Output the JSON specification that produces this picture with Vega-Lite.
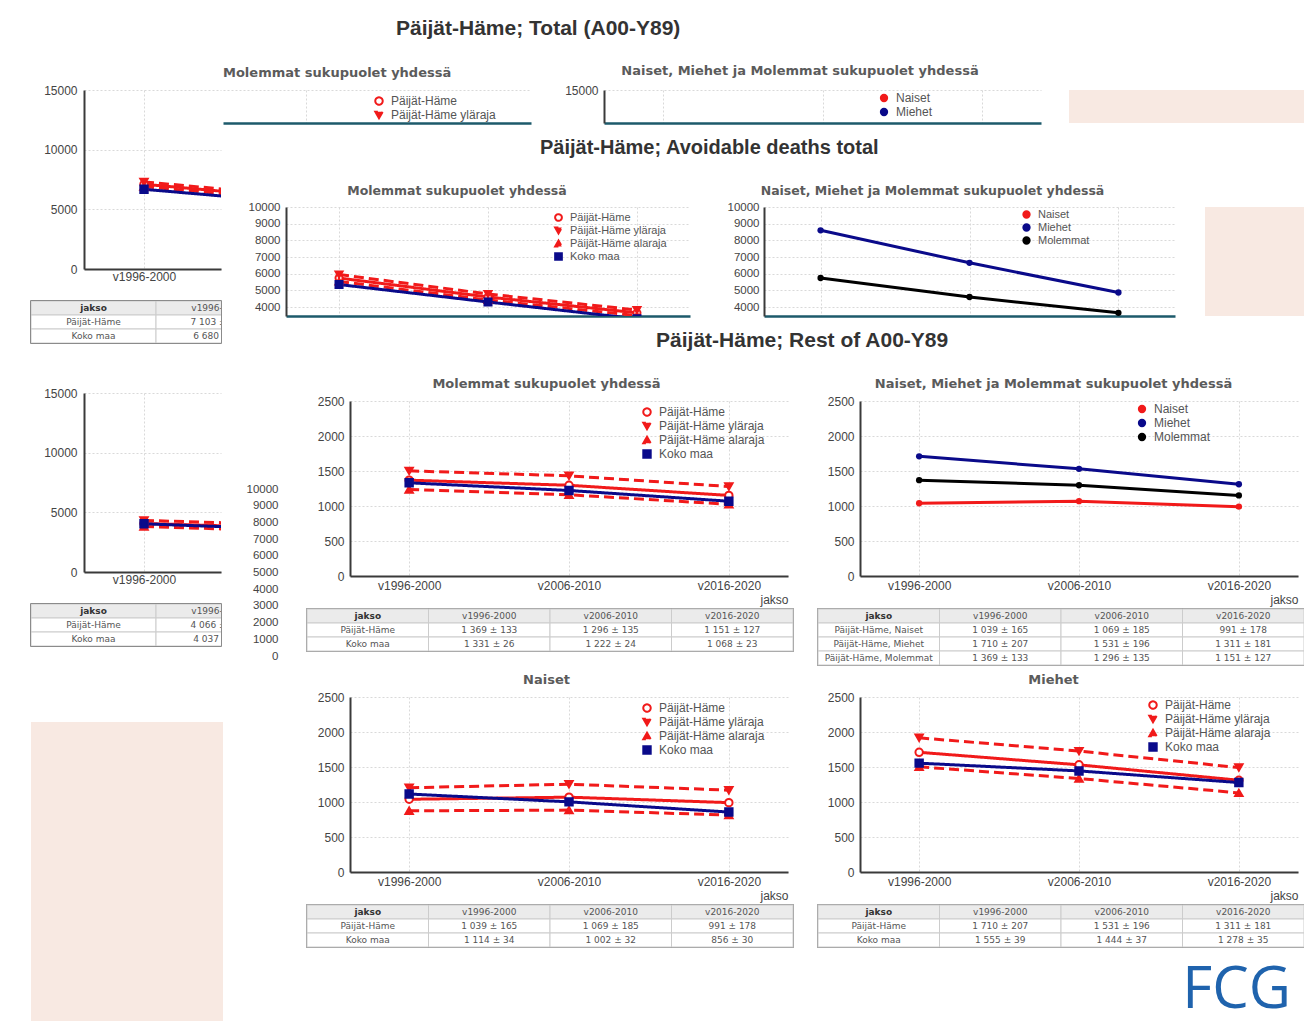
{
  "$schema": "https://vega.github.io/schema/vega-lite/v6.json",
  "background": "#ffffff",
  "padding": {"left": 30, "top": 18, "right": 0, "bottom": 0},
  "config": {
    "view": {"stroke": null},
    "font": "Liberation Sans",
    "numberFormat": "d",
    "title": {"font": "DejaVu Sans", "fontSize": 12.5, "fontWeight": "bold", "color": "#5b5b5b"},
    "axis": {"labelFont": "Liberation Sans", "labelFontSize": 12, "labelColor": "#444444", "domainColor": "#3a3a3a", "domainWidth": 2, "ticks": false, "gridColor": "#d9d9d9", "gridDash": [2, 2], "gridWidth": 1, "titleFont": "Liberation Sans", "titleFontSize": 12, "titleFontWeight": "normal", "titleColor": "#444444", "labelAngle": 0},
    "legend": {"labelFont": "Liberation Sans", "labelFontSize": 12, "labelColor": "#555555", "symbolStrokeWidth": 2, "rowPadding": -2, "labelOffset": 6, "symbolSize": 55}
  },
  "datasets": {
    "lepo": [
      {"kuva": "Molemmat", "sarja": "Päijät-Häme", "jakso": "v1996-2000", "arvo": 1369},
      {"kuva": "Molemmat", "sarja": "Päijät-Häme", "jakso": "v2006-2010", "arvo": 1296},
      {"kuva": "Molemmat", "sarja": "Päijät-Häme", "jakso": "v2016-2020", "arvo": 1151},
      {"kuva": "Molemmat", "sarja": "Päijät-Häme yläraja", "jakso": "v1996-2000", "arvo": 1502},
      {"kuva": "Molemmat", "sarja": "Päijät-Häme yläraja", "jakso": "v2006-2010", "arvo": 1431},
      {"kuva": "Molemmat", "sarja": "Päijät-Häme yläraja", "jakso": "v2016-2020", "arvo": 1278},
      {"kuva": "Molemmat", "sarja": "Päijät-Häme alaraja", "jakso": "v1996-2000", "arvo": 1236},
      {"kuva": "Molemmat", "sarja": "Päijät-Häme alaraja", "jakso": "v2006-2010", "arvo": 1161},
      {"kuva": "Molemmat", "sarja": "Päijät-Häme alaraja", "jakso": "v2016-2020", "arvo": 1024},
      {"kuva": "Molemmat", "sarja": "Koko maa", "jakso": "v1996-2000", "arvo": 1331},
      {"kuva": "Molemmat", "sarja": "Koko maa", "jakso": "v2006-2010", "arvo": 1222},
      {"kuva": "Molemmat", "sarja": "Koko maa", "jakso": "v2016-2020", "arvo": 1068},
      {"kuva": "Naiset", "sarja": "Päijät-Häme", "jakso": "v1996-2000", "arvo": 1039},
      {"kuva": "Naiset", "sarja": "Päijät-Häme", "jakso": "v2006-2010", "arvo": 1069},
      {"kuva": "Naiset", "sarja": "Päijät-Häme", "jakso": "v2016-2020", "arvo": 991},
      {"kuva": "Naiset", "sarja": "Päijät-Häme yläraja", "jakso": "v1996-2000", "arvo": 1204},
      {"kuva": "Naiset", "sarja": "Päijät-Häme yläraja", "jakso": "v2006-2010", "arvo": 1254},
      {"kuva": "Naiset", "sarja": "Päijät-Häme yläraja", "jakso": "v2016-2020", "arvo": 1169},
      {"kuva": "Naiset", "sarja": "Päijät-Häme alaraja", "jakso": "v1996-2000", "arvo": 874},
      {"kuva": "Naiset", "sarja": "Päijät-Häme alaraja", "jakso": "v2006-2010", "arvo": 884},
      {"kuva": "Naiset", "sarja": "Päijät-Häme alaraja", "jakso": "v2016-2020", "arvo": 813},
      {"kuva": "Naiset", "sarja": "Koko maa", "jakso": "v1996-2000", "arvo": 1114},
      {"kuva": "Naiset", "sarja": "Koko maa", "jakso": "v2006-2010", "arvo": 1002},
      {"kuva": "Naiset", "sarja": "Koko maa", "jakso": "v2016-2020", "arvo": 856},
      {"kuva": "Miehet", "sarja": "Päijät-Häme", "jakso": "v1996-2000", "arvo": 1710},
      {"kuva": "Miehet", "sarja": "Päijät-Häme", "jakso": "v2006-2010", "arvo": 1531},
      {"kuva": "Miehet", "sarja": "Päijät-Häme", "jakso": "v2016-2020", "arvo": 1311},
      {"kuva": "Miehet", "sarja": "Päijät-Häme yläraja", "jakso": "v1996-2000", "arvo": 1917},
      {"kuva": "Miehet", "sarja": "Päijät-Häme yläraja", "jakso": "v2006-2010", "arvo": 1727},
      {"kuva": "Miehet", "sarja": "Päijät-Häme yläraja", "jakso": "v2016-2020", "arvo": 1492},
      {"kuva": "Miehet", "sarja": "Päijät-Häme alaraja", "jakso": "v1996-2000", "arvo": 1503},
      {"kuva": "Miehet", "sarja": "Päijät-Häme alaraja", "jakso": "v2006-2010", "arvo": 1335},
      {"kuva": "Miehet", "sarja": "Päijät-Häme alaraja", "jakso": "v2016-2020", "arvo": 1130},
      {"kuva": "Miehet", "sarja": "Koko maa", "jakso": "v1996-2000", "arvo": 1555},
      {"kuva": "Miehet", "sarja": "Koko maa", "jakso": "v2006-2010", "arvo": 1444},
      {"kuva": "Miehet", "sarja": "Koko maa", "jakso": "v2016-2020", "arvo": 1278}
    ],
    "lepo_sp": [
      {"sarja": "Naiset", "jakso": "v1996-2000", "arvo": 1039},
      {"sarja": "Naiset", "jakso": "v2006-2010", "arvo": 1069},
      {"sarja": "Naiset", "jakso": "v2016-2020", "arvo": 991},
      {"sarja": "Miehet", "jakso": "v1996-2000", "arvo": 1710},
      {"sarja": "Miehet", "jakso": "v2006-2010", "arvo": 1531},
      {"sarja": "Miehet", "jakso": "v2016-2020", "arvo": 1311},
      {"sarja": "Molemmat", "jakso": "v1996-2000", "arvo": 1369},
      {"sarja": "Molemmat", "jakso": "v2006-2010", "arvo": 1296},
      {"sarja": "Molemmat", "jakso": "v2016-2020", "arvo": 1151}
    ],
    "kaikki": [
      {"kuva": "Molemmat", "sarja": "Päijät-Häme", "jakso": "v1996-2000", "alku": 1996, "arvo": 7103},
      {"kuva": "Molemmat", "sarja": "Päijät-Häme", "jakso": "v2006-2010", "alku": 2006, "arvo": 5896},
      {"kuva": "Molemmat", "sarja": "Päijät-Häme", "jakso": "v2016-2020", "alku": 2016, "arvo": 4801},
      {"kuva": "Molemmat", "sarja": "Päijät-Häme yläraja", "jakso": "v1996-2000", "alku": 1996, "arvo": 7300},
      {"kuva": "Molemmat", "sarja": "Päijät-Häme yläraja", "jakso": "v2006-2010", "alku": 2006, "arvo": 6080},
      {"kuva": "Molemmat", "sarja": "Päijät-Häme yläraja", "jakso": "v2016-2020", "alku": 2016, "arvo": 4980},
      {"kuva": "Molemmat", "sarja": "Päijät-Häme alaraja", "jakso": "v1996-2000", "alku": 1996, "arvo": 6906},
      {"kuva": "Molemmat", "sarja": "Päijät-Häme alaraja", "jakso": "v2006-2010", "alku": 2006, "arvo": 5712},
      {"kuva": "Molemmat", "sarja": "Päijät-Häme alaraja", "jakso": "v2016-2020", "alku": 2016, "arvo": 4622},
      {"kuva": "Molemmat", "sarja": "Koko maa", "jakso": "v1996-2000", "alku": 1996, "arvo": 6680},
      {"kuva": "Molemmat", "sarja": "Koko maa", "jakso": "v2006-2010", "alku": 2006, "arvo": 5522},
      {"kuva": "Molemmat", "sarja": "Koko maa", "jakso": "v2016-2020", "alku": 2016, "arvo": 4358},
      {"kuva": "Naiset", "sarja": "Päijät-Häme", "jakso": "v1996-2000", "alku": 1996, "arvo": 4066},
      {"kuva": "Naiset", "sarja": "Päijät-Häme", "jakso": "v2006-2010", "alku": 2006, "arvo": 3669},
      {"kuva": "Naiset", "sarja": "Päijät-Häme", "jakso": "v2016-2020", "alku": 2016, "arvo": 3291},
      {"kuva": "Naiset", "sarja": "Päijät-Häme yläraja", "jakso": "v1996-2000", "alku": 1996, "arvo": 4320},
      {"kuva": "Naiset", "sarja": "Päijät-Häme yläraja", "jakso": "v2006-2010", "alku": 2006, "arvo": 3940},
      {"kuva": "Naiset", "sarja": "Päijät-Häme yläraja", "jakso": "v2016-2020", "alku": 2016, "arvo": 3550},
      {"kuva": "Naiset", "sarja": "Päijät-Häme alaraja", "jakso": "v1996-2000", "alku": 1996, "arvo": 3812},
      {"kuva": "Naiset", "sarja": "Päijät-Häme alaraja", "jakso": "v2006-2010", "alku": 2006, "arvo": 3398},
      {"kuva": "Naiset", "sarja": "Päijät-Häme alaraja", "jakso": "v2016-2020", "alku": 2016, "arvo": 3032},
      {"kuva": "Naiset", "sarja": "Koko maa", "jakso": "v1996-2000", "alku": 1996, "arvo": 4037},
      {"kuva": "Naiset", "sarja": "Koko maa", "jakso": "v2006-2010", "alku": 2006, "arvo": 3550},
      {"kuva": "Naiset", "sarja": "Koko maa", "jakso": "v2016-2020", "alku": 2016, "arvo": 3100}
    ],
    "kaikki_sp": [
      {"sarja": "Naiset", "jakso": "v1996-2000", "arvo": 4066},
      {"sarja": "Naiset", "jakso": "v2006-2010", "arvo": 3669},
      {"sarja": "Naiset", "jakso": "v2016-2020", "arvo": 3291},
      {"sarja": "Miehet", "jakso": "v1996-2000", "arvo": 10310},
      {"sarja": "Miehet", "jakso": "v2006-2010", "arvo": 8181},
      {"sarja": "Miehet", "jakso": "v2016-2020", "arvo": 6181},
      {"sarja": "Molemmat", "jakso": "v1996-2000", "arvo": 7103},
      {"sarja": "Molemmat", "jakso": "v2006-2010", "arvo": 5896},
      {"sarja": "Molemmat", "jakso": "v2016-2020", "arvo": 4801}
    ],
    "vaelt": [
      {"sarja": "Päijät-Häme", "jakso": "v1996-2000", "arvo": 5740},
      {"sarja": "Päijät-Häme", "jakso": "v2006-2010", "arvo": 4600},
      {"sarja": "Päijät-Häme", "jakso": "v2016-2020", "arvo": 3650},
      {"sarja": "Päijät-Häme yläraja", "jakso": "v1996-2000", "arvo": 5950},
      {"sarja": "Päijät-Häme yläraja", "jakso": "v2006-2010", "arvo": 4780},
      {"sarja": "Päijät-Häme yläraja", "jakso": "v2016-2020", "arvo": 3820},
      {"sarja": "Päijät-Häme alaraja", "jakso": "v1996-2000", "arvo": 5530},
      {"sarja": "Päijät-Häme alaraja", "jakso": "v2006-2010", "arvo": 4420},
      {"sarja": "Päijät-Häme alaraja", "jakso": "v2016-2020", "arvo": 3480},
      {"sarja": "Koko maa", "jakso": "v1996-2000", "arvo": 5349},
      {"sarja": "Koko maa", "jakso": "v2006-2010", "arvo": 4300},
      {"sarja": "Koko maa", "jakso": "v2016-2020", "arvo": 3290}
    ],
    "vaelt_sp": [
      {"sarja": "Naiset", "jakso": "v1996-2000", "arvo": 3027},
      {"sarja": "Naiset", "jakso": "v2006-2010", "arvo": 2600},
      {"sarja": "Naiset", "jakso": "v2016-2020", "arvo": 2300},
      {"sarja": "Miehet", "jakso": "v1996-2000", "arvo": 8600},
      {"sarja": "Miehet", "jakso": "v2006-2010", "arvo": 6650},
      {"sarja": "Miehet", "jakso": "v2016-2020", "arvo": 4870},
      {"sarja": "Molemmat", "jakso": "v1996-2000", "arvo": 5740},
      {"sarja": "Molemmat", "jakso": "v2006-2010", "arvo": 4600},
      {"sarja": "Molemmat", "jakso": "v2016-2020", "arvo": 3650}
    ],
    "taulukot": [
      {"taulukko": "T1", "rivi": "jakso", "sarake": "jakso", "teksti": "jakso"},
      {"taulukko": "T1", "rivi": "jakso", "sarake": "v1996-2000", "teksti": "v1996-2000"},
      {"taulukko": "T1", "rivi": "jakso", "sarake": "v2006-2010", "teksti": "v2006-2010"},
      {"taulukko": "T1", "rivi": "jakso", "sarake": "v2016-2020", "teksti": "v2016-2020"},
      {"taulukko": "T1", "rivi": "Päijät-Häme", "sarake": "jakso", "teksti": "Päijät-Häme"},
      {"taulukko": "T1", "rivi": "Päijät-Häme", "sarake": "v1996-2000", "teksti": "1 369 ± 133"},
      {"taulukko": "T1", "rivi": "Päijät-Häme", "sarake": "v2006-2010", "teksti": "1 296 ± 135"},
      {"taulukko": "T1", "rivi": "Päijät-Häme", "sarake": "v2016-2020", "teksti": "1 151 ± 127"},
      {"taulukko": "T1", "rivi": "Koko maa", "sarake": "jakso", "teksti": "Koko maa"},
      {"taulukko": "T1", "rivi": "Koko maa", "sarake": "v1996-2000", "teksti": "1 331 ± 26"},
      {"taulukko": "T1", "rivi": "Koko maa", "sarake": "v2006-2010", "teksti": "1 222 ± 24"},
      {"taulukko": "T1", "rivi": "Koko maa", "sarake": "v2016-2020", "teksti": "1 068 ± 23"},
      {"taulukko": "T2", "rivi": "jakso", "sarake": "jakso", "teksti": "jakso"},
      {"taulukko": "T2", "rivi": "jakso", "sarake": "v1996-2000", "teksti": "v1996-2000"},
      {"taulukko": "T2", "rivi": "jakso", "sarake": "v2006-2010", "teksti": "v2006-2010"},
      {"taulukko": "T2", "rivi": "jakso", "sarake": "v2016-2020", "teksti": "v2016-2020"},
      {"taulukko": "T2", "rivi": "Päijät-Häme, Naiset", "sarake": "jakso", "teksti": "Päijät-Häme, Naiset"},
      {"taulukko": "T2", "rivi": "Päijät-Häme, Naiset", "sarake": "v1996-2000", "teksti": "1 039 ± 165"},
      {"taulukko": "T2", "rivi": "Päijät-Häme, Naiset", "sarake": "v2006-2010", "teksti": "1 069 ± 185"},
      {"taulukko": "T2", "rivi": "Päijät-Häme, Naiset", "sarake": "v2016-2020", "teksti": "991 ± 178"},
      {"taulukko": "T2", "rivi": "Päijät-Häme, Miehet", "sarake": "jakso", "teksti": "Päijät-Häme, Miehet"},
      {"taulukko": "T2", "rivi": "Päijät-Häme, Miehet", "sarake": "v1996-2000", "teksti": "1 710 ± 207"},
      {"taulukko": "T2", "rivi": "Päijät-Häme, Miehet", "sarake": "v2006-2010", "teksti": "1 531 ± 196"},
      {"taulukko": "T2", "rivi": "Päijät-Häme, Miehet", "sarake": "v2016-2020", "teksti": "1 311 ± 181"},
      {"taulukko": "T2", "rivi": "Päijät-Häme, Molemmat", "sarake": "jakso", "teksti": "Päijät-Häme, Molemmat"},
      {"taulukko": "T2", "rivi": "Päijät-Häme, Molemmat", "sarake": "v1996-2000", "teksti": "1 369 ± 133"},
      {"taulukko": "T2", "rivi": "Päijät-Häme, Molemmat", "sarake": "v2006-2010", "teksti": "1 296 ± 135"},
      {"taulukko": "T2", "rivi": "Päijät-Häme, Molemmat", "sarake": "v2016-2020", "teksti": "1 151 ± 127"},
      {"taulukko": "T3", "rivi": "jakso", "sarake": "jakso", "teksti": "jakso"},
      {"taulukko": "T3", "rivi": "jakso", "sarake": "v1996-2000", "teksti": "v1996-2000"},
      {"taulukko": "T3", "rivi": "jakso", "sarake": "v2006-2010", "teksti": "v2006-2010"},
      {"taulukko": "T3", "rivi": "jakso", "sarake": "v2016-2020", "teksti": "v2016-2020"},
      {"taulukko": "T3", "rivi": "Päijät-Häme", "sarake": "jakso", "teksti": "Päijät-Häme"},
      {"taulukko": "T3", "rivi": "Päijät-Häme", "sarake": "v1996-2000", "teksti": "1 039 ± 165"},
      {"taulukko": "T3", "rivi": "Päijät-Häme", "sarake": "v2006-2010", "teksti": "1 069 ± 185"},
      {"taulukko": "T3", "rivi": "Päijät-Häme", "sarake": "v2016-2020", "teksti": "991 ± 178"},
      {"taulukko": "T3", "rivi": "Koko maa", "sarake": "jakso", "teksti": "Koko maa"},
      {"taulukko": "T3", "rivi": "Koko maa", "sarake": "v1996-2000", "teksti": "1 114 ± 34"},
      {"taulukko": "T3", "rivi": "Koko maa", "sarake": "v2006-2010", "teksti": "1 002 ± 32"},
      {"taulukko": "T3", "rivi": "Koko maa", "sarake": "v2016-2020", "teksti": "856 ± 30"},
      {"taulukko": "T4", "rivi": "jakso", "sarake": "jakso", "teksti": "jakso"},
      {"taulukko": "T4", "rivi": "jakso", "sarake": "v1996-2000", "teksti": "v1996-2000"},
      {"taulukko": "T4", "rivi": "jakso", "sarake": "v2006-2010", "teksti": "v2006-2010"},
      {"taulukko": "T4", "rivi": "jakso", "sarake": "v2016-2020", "teksti": "v2016-2020"},
      {"taulukko": "T4", "rivi": "Päijät-Häme", "sarake": "jakso", "teksti": "Päijät-Häme"},
      {"taulukko": "T4", "rivi": "Päijät-Häme", "sarake": "v1996-2000", "teksti": "1 710 ± 207"},
      {"taulukko": "T4", "rivi": "Päijät-Häme", "sarake": "v2006-2010", "teksti": "1 531 ± 196"},
      {"taulukko": "T4", "rivi": "Päijät-Häme", "sarake": "v2016-2020", "teksti": "1 311 ± 181"},
      {"taulukko": "T4", "rivi": "Koko maa", "sarake": "jakso", "teksti": "Koko maa"},
      {"taulukko": "T4", "rivi": "Koko maa", "sarake": "v1996-2000", "teksti": "1 555 ± 39"},
      {"taulukko": "T4", "rivi": "Koko maa", "sarake": "v2006-2010", "teksti": "1 444 ± 37"},
      {"taulukko": "T4", "rivi": "Koko maa", "sarake": "v2016-2020", "teksti": "1 278 ± 35"},
      {"taulukko": "K1", "rivi": "jakso", "sarake": "jakso", "teksti": "jakso"},
      {"taulukko": "K1", "rivi": "jakso", "sarake": "v1996-2000", "teksti": "v1996-2000"},
      {"taulukko": "K1", "rivi": "Päijät-Häme", "sarake": "jakso", "teksti": "Päijät-Häme"},
      {"taulukko": "K1", "rivi": "Päijät-Häme", "sarake": "v1996-2000", "teksti": "7 103 ± 262"},
      {"taulukko": "K1", "rivi": "Koko maa", "sarake": "jakso", "teksti": "Koko maa"},
      {"taulukko": "K1", "rivi": "Koko maa", "sarake": "v1996-2000", "teksti": "6 680 ± 52"},
      {"taulukko": "K2", "rivi": "jakso", "sarake": "jakso", "teksti": "jakso"},
      {"taulukko": "K2", "rivi": "jakso", "sarake": "v1996-2000", "teksti": "v1996-2000"},
      {"taulukko": "K2", "rivi": "Päijät-Häme", "sarake": "jakso", "teksti": "Päijät-Häme"},
      {"taulukko": "K2", "rivi": "Päijät-Häme", "sarake": "v1996-2000", "teksti": "4 066 ± 254"},
      {"taulukko": "K2", "rivi": "Koko maa", "sarake": "jakso", "teksti": "Koko maa"},
      {"taulukko": "K2", "rivi": "Koko maa", "sarake": "v1996-2000", "teksti": "4 037 ± 40"}
    ],
    "tyhja": [{"tyhja": 0}]
  },
  "resolve": {"scale": {"color": "independent", "stroke": "independent", "fill": "independent", "shape": "independent", "strokeDash": "independent"}},
  "columns": 2,
  "align": "none",
  "spacing": 0,
  "concat": [
    {
      "columns": 1,
      "align": "none",
      "spacing": 18,
      "resolve": {"scale": {"color": "independent", "stroke": "independent", "fill": "independent", "shape": "independent", "strokeDash": "independent"}},
      "concat": [
        {
          "columns": 2,
          "align": "none",
          "spacing": 0,
          "resolve": {"scale": {"color": "independent", "stroke": "independent", "fill": "independent", "shape": "independent", "strokeDash": "independent"}},
          "concat": [
            {"width": 1, "height": 1, "data": {"name": "tyhja"}, "mark": {"type": "point", "opacity": 0, "size": 1}, "encoding": {}},
            {
              "width": 137, "height": 179,
              "data": {"name": "kaikki"},
              "transform": [{"filter": "datum.kuva === 'Molemmat'"}],
              "encoding": {
                "x": {"field": "alku", "type": "quantitative", "scale": {"domain": [1992.25, 2000.8125], "nice": false, "zero": false}, "axis": {"values": [1996], "labelExpr": "'v' + datum.value + '-' + (datum.value + 4)", "title": null, "grid": true, "labelPadding": 2}},
                "y": {"field": "arvo", "type": "quantitative", "scale": {"domain": [0, 15000], "nice": false}, "axis": {"values": [0, 5000, 10000, 15000], "title": null, "grid": true, "minExtent": 52, "labelPadding": 7}},
                "stroke": {"field": "sarja", "type": "nominal", "scale": {"domain": ["Päijät-Häme", "Päijät-Häme yläraja", "Päijät-Häme alaraja", "Koko maa"], "range": ["#f11a1a", "#f11a1a", "#f11a1a", "#0a0a8a"]}, "legend": null}
              },
              "layer": [
                {"mark": {"type": "line", "strokeWidth": 3, "clip": true}, "encoding": {"strokeDash": {"field": "sarja", "type": "nominal", "scale": {"domain": ["Päijät-Häme", "Päijät-Häme yläraja", "Päijät-Häme alaraja", "Koko maa"], "range": [[1, 0], [10, 5], [10, 5], [1, 0]]}, "legend": null}}},
                {"mark": {"type": "point", "size": 55, "strokeWidth": 2, "opacity": 1, "clip": true}, "encoding": {
                  "fill": {"field": "sarja", "type": "nominal", "scale": {"domain": ["Päijät-Häme", "Päijät-Häme yläraja", "Päijät-Häme alaraja", "Koko maa"], "range": ["#ffffff", "#f11a1a", "#f11a1a", "#0a0a8a"]}, "legend": null},
                  "shape": {"field": "sarja", "type": "nominal", "scale": {"domain": ["Päijät-Häme", "Päijät-Häme yläraja", "Päijät-Häme alaraja", "Koko maa"], "range": ["circle", "triangle-down", "triangle-up", "square"]}, "legend": null}}}
              ]
            }
          ]
        },
        {
          "width": 190, "height": 42,
          "view": {"stroke": "#666666", "strokeWidth": 1.5},
          "data": {"name": "taulukot"},
          "transform": [{"filter": "datum.taulukko === 'K1'"}],
          "encoding": {
            "x": {"field": "sarake", "type": "nominal", "scale": {"domain": ["jakso", "v1996-2000"], "range": [0, 250], "paddingInner": 0, "paddingOuter": 0}, "axis": null},
            "y": {"field": "rivi", "type": "nominal", "scale": {"domain": ["jakso", "Päijät-Häme", "Koko maa"], "paddingInner": 0, "paddingOuter": 0}, "axis": null}
          },
          "layer": [
            {"mark": {"type": "rect", "stroke": "#cccccc", "strokeWidth": 1, "clip": true}, "encoding": {"fill": {"condition": {"test": "datum.rivi === 'jakso'", "value": "#ebebeb"}, "value": "#ffffff"}}},
            {"transform": [{"filter": "!(datum.rivi === 'jakso' && datum.sarake === 'jakso')"}], "mark": {"type": "text", "font": "DejaVu Sans", "fontSize": 9, "color": "#555555", "clip": true}, "encoding": {"text": {"field": "teksti"}}},
            {"transform": [{"filter": "datum.rivi === 'jakso' && datum.sarake === 'jakso'"}], "mark": {"type": "text", "font": "DejaVu Sans", "fontSize": 9, "fontWeight": "bold", "color": "#333333"}, "encoding": {"text": {"field": "teksti"}}}
          ]
        },
        {"width": 1, "height": 7, "data": {"name": "tyhja"}, "mark": {"type": "point", "opacity": 0, "size": 1}, "encoding": {}},
        {
          "columns": 2,
          "align": "none",
          "spacing": 0,
          "resolve": {"scale": {"color": "independent", "stroke": "independent", "fill": "independent", "shape": "independent", "strokeDash": "independent"}},
          "concat": [
            {"width": 1, "height": 1, "data": {"name": "tyhja"}, "mark": {"type": "point", "opacity": 0, "size": 1}, "encoding": {}},
            {
              "width": 137, "height": 179,
              "data": {"name": "kaikki"},
              "transform": [{"filter": "datum.kuva === 'Naiset'"}],
              "encoding": {
                "x": {"field": "alku", "type": "quantitative", "scale": {"domain": [1992.25, 2000.8125], "nice": false, "zero": false}, "axis": {"values": [1996], "labelExpr": "'v' + datum.value + '-' + (datum.value + 4)", "title": null, "grid": true, "labelPadding": 2}},
                "y": {"field": "arvo", "type": "quantitative", "scale": {"domain": [0, 15000], "nice": false}, "axis": {"values": [0, 5000, 10000, 15000], "title": null, "grid": true, "minExtent": 52, "labelPadding": 7}},
                "stroke": {"field": "sarja", "type": "nominal", "scale": {"domain": ["Päijät-Häme", "Päijät-Häme yläraja", "Päijät-Häme alaraja", "Koko maa"], "range": ["#f11a1a", "#f11a1a", "#f11a1a", "#0a0a8a"]}, "legend": null}
              },
              "layer": [
                {"mark": {"type": "line", "strokeWidth": 3, "clip": true}, "encoding": {"strokeDash": {"field": "sarja", "type": "nominal", "scale": {"domain": ["Päijät-Häme", "Päijät-Häme yläraja", "Päijät-Häme alaraja", "Koko maa"], "range": [[1, 0], [10, 5], [10, 5], [1, 0]]}, "legend": null}}},
                {"mark": {"type": "point", "size": 55, "strokeWidth": 2, "opacity": 1, "clip": true}, "encoding": {
                  "fill": {"field": "sarja", "type": "nominal", "scale": {"domain": ["Päijät-Häme", "Päijät-Häme yläraja", "Päijät-Häme alaraja", "Koko maa"], "range": ["#ffffff", "#f11a1a", "#f11a1a", "#0a0a8a"]}, "legend": null},
                  "shape": {"field": "sarja", "type": "nominal", "scale": {"domain": ["Päijät-Häme", "Päijät-Häme yläraja", "Päijät-Häme alaraja", "Koko maa"], "range": ["circle", "triangle-down", "triangle-up", "square"]}, "legend": null}}}
              ]
            }
          ]
        },
        {
          "width": 190, "height": 42,
          "view": {"stroke": "#666666", "strokeWidth": 1.5},
          "data": {"name": "taulukot"},
          "transform": [{"filter": "datum.taulukko === 'K2'"}],
          "encoding": {
            "x": {"field": "sarake", "type": "nominal", "scale": {"domain": ["jakso", "v1996-2000"], "range": [0, 250], "paddingInner": 0, "paddingOuter": 0}, "axis": null},
            "y": {"field": "rivi", "type": "nominal", "scale": {"domain": ["jakso", "Päijät-Häme", "Koko maa"], "paddingInner": 0, "paddingOuter": 0}, "axis": null}
          },
          "layer": [
            {"mark": {"type": "rect", "stroke": "#cccccc", "strokeWidth": 1, "clip": true}, "encoding": {"fill": {"condition": {"test": "datum.rivi === 'jakso'", "value": "#ebebeb"}, "value": "#ffffff"}}},
            {"transform": [{"filter": "!(datum.rivi === 'jakso' && datum.sarake === 'jakso')"}], "mark": {"type": "text", "font": "DejaVu Sans", "fontSize": 9, "color": "#555555", "clip": true}, "encoding": {"text": {"field": "teksti"}}},
            {"transform": [{"filter": "datum.rivi === 'jakso' && datum.sarake === 'jakso'"}], "mark": {"type": "text", "font": "DejaVu Sans", "fontSize": 9, "fontWeight": "bold", "color": "#333333"}, "encoding": {"text": {"field": "teksti"}}}
          ]
        },
        {"width": 1, "height": 39, "data": {"name": "tyhja"}, "mark": {"type": "point", "opacity": 0, "size": 1}, "encoding": {}},
        {"width": 192, "height": 299, "view": {"fill": "#f8e9e2", "stroke": null}, "data": {"name": "tyhja"}, "mark": {"type": "point", "opacity": 0, "size": 1}, "encoding": {}}
      ]
    },
    {
      "columns": 1,
      "align": "none",
      "spacing": 14,
      "resolve": {"scale": {"color": "independent", "stroke": "independent", "fill": "independent", "shape": "independent", "strokeDash": "independent"}},
      "concat": [
        {
          "columns": 2,
          "align": "none",
          "spacing": 28,
          "resolve": {"scale": {"color": "independent", "stroke": "independent", "fill": "independent", "shape": "independent", "strokeDash": "independent"}},
          "concat": [
            {
              "title": {"text": "Päijät-Häme; Total (A00-Y89)", "anchor": "start", "dx": 173, "font": "Liberation Sans", "fontSize": 21, "color": "#333333", "offset": 26},
              "columns": 2,
              "align": "none",
              "spacing": 28,
              "resolve": {"scale": {"color": "independent", "stroke": "independent", "fill": "independent", "shape": "independent", "strokeDash": "independent"}},
              "concat": [
                {
                  "title": {"text": "Molemmat sukupuolet yhdessä", "anchor": "start", "fontSize": 13, "offset": 10},
                  "width": 308, "height": 33,
                  "data": {"name": "kaikki"},
                  "transform": [{"filter": "datum.kuva === 'Molemmat'"}],
                  "encoding": {
                    "x": {"field": "alku", "type": "quantitative", "scale": {"domain": [2000.8125, 2020.0625], "nice": false, "zero": false}, "axis": {"values": [2006], "labels": false, "domain": true, "domainColor": "#1d5a6b", "domainWidth": 2.5, "title": null, "grid": true}},
                    "y": {"field": "arvo", "type": "quantitative", "scale": {"domain": [12235, 15000], "nice": false}, "axis": {"values": [15000], "labels": false, "domain": false, "title": null, "grid": true}},
                    "stroke": {"field": "sarja", "type": "nominal", "scale": {"domain": ["Päijät-Häme", "Päijät-Häme yläraja", "Päijät-Häme alaraja", "Koko maa"], "range": ["#f11a1a", "#f11a1a", "#f11a1a", "#0a0a8a"]}, "legend": {"orient": "none", "legendX": 150, "legendY": 5, "title": null, "values": ["Päijät-Häme", "Päijät-Häme yläraja"]}}
                  },
                  "layer": [
                    {"mark": {"type": "line", "strokeWidth": 3, "clip": true}, "encoding": {"strokeDash": {"field": "sarja", "type": "nominal", "scale": {"domain": ["Päijät-Häme", "Päijät-Häme yläraja", "Päijät-Häme alaraja", "Koko maa"], "range": [[1, 0], [10, 5], [10, 5], [1, 0]]}, "legend": null}}},
                    {"mark": {"type": "point", "size": 55, "strokeWidth": 2, "opacity": 1, "clip": true}, "encoding": {
                      "fill": {"field": "sarja", "type": "nominal", "scale": {"domain": ["Päijät-Häme", "Päijät-Häme yläraja", "Päijät-Häme alaraja", "Koko maa"], "range": ["#ffffff", "#f11a1a", "#f11a1a", "#0a0a8a"]}, "legend": {"orient": "none", "legendX": 150, "legendY": 5, "title": null, "values": ["Päijät-Häme", "Päijät-Häme yläraja"]}},
                      "shape": {"field": "sarja", "type": "nominal", "scale": {"domain": ["Päijät-Häme", "Päijät-Häme yläraja", "Päijät-Häme alaraja", "Koko maa"], "range": ["circle", "triangle-down", "triangle-up", "square"]}, "legend": {"orient": "none", "legendX": 150, "legendY": 5, "title": null, "values": ["Päijät-Häme", "Päijät-Häme yläraja"]}}}}
                  ]
                },
                {
                  "title": {"text": "Naiset, Miehet ja Molemmat sukupuolet yhdessä", "frame": "bounds", "fontSize": 13, "offset": 6},
                  "width": 437, "height": 33,
                  "data": {"name": "kaikki_sp"},
                  "encoding": {
                    "x": {"field": "jakso", "type": "ordinal", "scale": {"type": "point", "padding": 0.37}, "axis": {"labels": false, "domain": true, "domainColor": "#1d5a6b", "domainWidth": 2.5, "title": null, "grid": true}},
                    "y": {"field": "arvo", "type": "quantitative", "scale": {"domain": [12235, 15000], "nice": false}, "axis": {"values": [15000], "title": null, "grid": true, "minExtent": 45, "labelPadding": 6}},
                    "color": {"field": "sarja", "type": "nominal", "scale": {"domain": ["Naiset", "Miehet", "Molemmat"], "range": ["#f11a1a", "#0a0a8a", "#000000"]}, "legend": {"orient": "none", "legendX": 274, "legendY": 2, "title": null, "symbolType": "circle", "symbolSize": 40, "values": ["Naiset", "Miehet"]}}
                  },
                  "layer": [
                    {"mark": {"type": "line", "strokeWidth": 3, "clip": true}},
                    {"mark": {"type": "point", "filled": true, "size": 40, "opacity": 1, "clip": true}}
                  ]
                }
              ]
            },
            {"width": 236, "height": 33, "view": {"fill": "#f8e9e2", "stroke": null}, "data": {"name": "tyhja"}, "mark": {"type": "point", "opacity": 0, "size": 1}, "encoding": {}}
          ]
        },
        {
          "columns": 2,
          "align": "none",
          "spacing": 30,
          "resolve": {"scale": {"color": "independent", "stroke": "independent", "fill": "independent", "shape": "independent", "strokeDash": "independent"}},
          "concat": [
            {
              "title": {"text": "Päijät-Häme; Avoidable deaths total", "anchor": "start", "dx": 317, "font": "Liberation Sans", "fontSize": 20, "color": "#333333", "offset": 27},
              "columns": 3,
              "align": "none",
              "spacing": 0,
              "resolve": {"scale": {"color": "independent", "stroke": "independent", "fill": "independent", "shape": "independent", "strokeDash": "independent"}},
              "concat": [
                {"width": 1, "height": 1, "data": {"name": "tyhja"}, "mark": {"type": "point", "opacity": 0, "size": 1}, "encoding": {}},
                {
                  "title": {"text": "Molemmat sukupuolet yhdessä", "frame": "bounds", "offset": 4},
                  "width": 404, "height": 109,
                  "data": {"name": "vaelt"},
                  "encoding": {
                    "x": {"field": "jakso", "type": "ordinal", "scale": {"type": "point", "padding": 0.356}, "axis": {"labels": false, "domain": true, "domainColor": "#1d5a6b", "domainWidth": 2.5, "title": null, "grid": true}},
                    "y": {"field": "arvo", "type": "quantitative", "scale": {"domain": [3460, 10000], "nice": false}, "axis": {"values": [4000, 5000, 6000, 7000, 8000, 9000, 10000], "title": null, "grid": true, "minExtent": 62, "labelFontSize": 11.5, "labelPadding": 6}},
                    "stroke": {"field": "sarja", "type": "nominal", "scale": {"domain": ["Päijät-Häme", "Päijät-Häme yläraja", "Päijät-Häme alaraja", "Koko maa"], "range": ["#f11a1a", "#f11a1a", "#f11a1a", "#0a0a8a"]}, "legend": {"orient": "none", "legendX": 267, "legendY": 5, "title": null, "labelFontSize": 11, "symbolSize": 45, "rowPadding": -3}}
                  },
                  "layer": [
                    {"mark": {"type": "line", "strokeWidth": 3, "clip": true}, "encoding": {"strokeDash": {"field": "sarja", "type": "nominal", "scale": {"domain": ["Päijät-Häme", "Päijät-Häme yläraja", "Päijät-Häme alaraja", "Koko maa"], "range": [[1, 0], [10, 5], [10, 5], [1, 0]]}, "legend": null}}},
                    {"mark": {"type": "point", "size": 50, "strokeWidth": 2, "opacity": 1, "clip": true}, "encoding": {
                      "fill": {"field": "sarja", "type": "nominal", "scale": {"domain": ["Päijät-Häme", "Päijät-Häme yläraja", "Päijät-Häme alaraja", "Koko maa"], "range": ["#ffffff", "#f11a1a", "#f11a1a", "#0a0a8a"]}, "legend": {"orient": "none", "legendX": 267, "legendY": 5, "title": null, "labelFontSize": 11, "symbolSize": 45, "rowPadding": -3}},
                      "shape": {"field": "sarja", "type": "nominal", "scale": {"domain": ["Päijät-Häme", "Päijät-Häme yläraja", "Päijät-Häme alaraja", "Koko maa"], "range": ["circle", "triangle-down", "triangle-up", "square"]}, "legend": {"orient": "none", "legendX": 267, "legendY": 5, "title": null, "labelFontSize": 11, "symbolSize": 45, "rowPadding": -3}}}}
                  ]
                },
                {
                  "title": {"text": "Naiset, Miehet ja Molemmat sukupuolet yhdessä", "frame": "bounds", "offset": 4},
                  "width": 411, "height": 109,
                  "data": {"name": "vaelt_sp"},
                  "encoding": {
                    "x": {"field": "jakso", "type": "ordinal", "scale": {"type": "point", "padding": 0.38}, "axis": {"labels": false, "domain": true, "domainColor": "#1d5a6b", "domainWidth": 2.5, "title": null, "grid": true}},
                    "y": {"field": "arvo", "type": "quantitative", "scale": {"domain": [3460, 10000], "nice": false}, "axis": {"values": [4000, 5000, 6000, 7000, 8000, 9000, 10000], "title": null, "grid": true, "minExtent": 74, "labelFontSize": 11.5, "labelPadding": 5}},
                    "color": {"field": "sarja", "type": "nominal", "scale": {"domain": ["Naiset", "Miehet", "Molemmat"], "range": ["#f11a1a", "#0a0a8a", "#000000"]}, "legend": {"orient": "none", "legendX": 257, "legendY": 2, "title": null, "symbolType": "circle", "symbolSize": 40, "labelFontSize": 11, "rowPadding": -3}}
                  },
                  "layer": [
                    {"mark": {"type": "line", "strokeWidth": 3, "clip": true}},
                    {"mark": {"type": "point", "filled": true, "size": 40, "opacity": 1, "clip": true}}
                  ]
                }
              ]
            },
            {"width": 100, "height": 109, "view": {"fill": "#f8e9e2", "stroke": null}, "data": {"name": "tyhja"}, "mark": {"type": "point", "opacity": 0, "size": 1}, "encoding": {}}
          ]
        },
        {
          "columns": 3,
          "align": "none",
          "spacing": 0,
          "resolve": {"scale": {"color": "independent", "stroke": "independent", "fill": "independent", "shape": "independent", "strokeDash": "independent"}},
          "concat": [
            {"width": 1, "height": 1, "data": {"name": "tyhja"}, "mark": {"type": "point", "opacity": 0, "size": 1}, "encoding": {}},
            {
              "columns": 1,
              "align": "none",
              "spacing": 81,
              "concat": [
                {"width": 1, "height": 1, "data": {"name": "tyhja"}, "mark": {"type": "point", "opacity": 0, "size": 1}, "encoding": {}},
                {"width": 1, "height": 167, "data": {"name": "tyhja"}, "mark": {"type": "point", "opacity": 0, "size": 1}, "encoding": {"y": {"datum": 0, "type": "quantitative", "scale": {"domain": [0, 10000], "nice": false}, "axis": {"values": [0, 1000, 2000, 3000, 4000, 5000, 6000, 7000, 8000, 9000, 10000], "title": null, "domain": false, "grid": false, "minExtent": 58, "labelFontSize": 11.5, "labelPadding": 4}}}}
              ]
            },
            {
              "title": {"text": "Päijät-Häme; Rest of A00-Y89", "anchor": "middle", "dx": 8, "font": "Liberation Sans", "fontSize": 21, "color": "#333333", "offset": 27},
              "columns": 1,
              "align": "none",
              "spacing": 2,
              "resolve": {"scale": {"color": "independent", "stroke": "independent", "fill": "independent", "shape": "independent", "strokeDash": "independent"}},
              "concat": [
                {
                  "columns": 3,
                  "align": "none",
                  "spacing": 21,
                  "resolve": {"scale": {"color": "independent", "stroke": "independent", "fill": "independent", "shape": "independent", "strokeDash": "independent"}},
                  "concat": [
                    {"width": 1, "height": 1, "data": {"name": "tyhja"}, "mark": {"type": "point", "opacity": 0, "size": 1}, "encoding": {}},
                    {
                      "title": {"text": "Molemmat sukupuolet yhdessä", "frame": "bounds", "fontSize": 13, "offset": 4},
                      "width": 438, "height": 175,
                      "data": {"name": "lepo"},
                      "transform": [{"filter": "datum.kuva === 'Molemmat'"}],
                      "encoding": {
                        "x": {"field": "jakso", "type": "ordinal", "scale": {"type": "point", "padding": 0.37}, "axis": {"title": "jakso", "titleAnchor": "end", "grid": true, "labelPadding": 4, "titlePadding": 3}},
                        "y": {"field": "arvo", "type": "quantitative", "scale": {"domain": [0, 2500], "nice": false}, "axis": {"title": null, "values": [0, 500, 1000, 1500, 2000, 2500], "grid": true, "minExtent": 45, "labelPadding": 6}},
                        "stroke": {"field": "sarja", "type": "nominal", "scale": {"domain": ["Päijät-Häme", "Päijät-Häme yläraja", "Päijät-Häme alaraja", "Koko maa"], "range": ["#f11a1a", "#f11a1a", "#f11a1a", "#0a0a8a"]}, "legend": {"orient": "none", "legendX": 291, "legendY": 5, "title": null}}
                      },
                      "layer": [
                        {"mark": {"type": "line", "strokeWidth": 3}, "encoding": {"strokeDash": {"field": "sarja", "type": "nominal", "scale": {"domain": ["Päijät-Häme", "Päijät-Häme yläraja", "Päijät-Häme alaraja", "Koko maa"], "range": [[1, 0], [10, 5], [10, 5], [1, 0]]}, "legend": null}}},
                        {"mark": {"type": "point", "size": 55, "strokeWidth": 2, "opacity": 1}, "encoding": {
                          "fill": {"field": "sarja", "type": "nominal", "scale": {"domain": ["Päijät-Häme", "Päijät-Häme yläraja", "Päijät-Häme alaraja", "Koko maa"], "range": ["#ffffff", "#f11a1a", "#f11a1a", "#0a0a8a"]}, "legend": {"orient": "none", "legendX": 291, "legendY": 5, "title": null}},
                          "shape": {"field": "sarja", "type": "nominal", "scale": {"domain": ["Päijät-Häme", "Päijät-Häme yläraja", "Päijät-Häme alaraja", "Koko maa"], "range": ["circle", "triangle-down", "triangle-up", "square"]}, "legend": {"orient": "none", "legendX": 291, "legendY": 5, "title": null}}}}
                      ]
                    },
                    {
                      "title": {"text": "Naiset, Miehet ja Molemmat sukupuolet yhdessä", "frame": "bounds", "fontSize": 13, "offset": 4},
                      "width": 438, "height": 175,
                      "data": {"name": "lepo_sp"},
                      "encoding": {
                        "x": {"field": "jakso", "type": "ordinal", "scale": {"type": "point", "padding": 0.37}, "axis": {"title": "jakso", "titleAnchor": "end", "grid": true, "labelPadding": 4, "titlePadding": 3}},
                        "y": {"field": "arvo", "type": "quantitative", "scale": {"domain": [0, 2500], "nice": false}, "axis": {"title": null, "values": [0, 500, 1000, 1500, 2000, 2500], "grid": true, "minExtent": 51, "labelPadding": 6}},
                        "color": {"field": "sarja", "type": "nominal", "scale": {"domain": ["Naiset", "Miehet", "Molemmat"], "range": ["#f11a1a", "#0a0a8a", "#000000"]}, "legend": {"orient": "none", "legendX": 276, "legendY": 2, "title": null, "symbolType": "circle", "symbolSize": 40}}
                      },
                      "layer": [
                        {"mark": {"type": "line", "strokeWidth": 3}},
                        {"mark": {"type": "point", "filled": true, "size": 40, "opacity": 1}}
                      ]
                    }
                  ]
                },
                {
                  "columns": 3,
                  "align": "none",
                  "spacing": 21,
                  "concat": [
                    {"width": 1, "height": 1, "data": {"name": "tyhja"}, "mark": {"type": "point", "opacity": 0, "size": 1}, "encoding": {}},
                    {
                      "width": 486, "height": 42,
                      "view": {"stroke": "#666666", "strokeWidth": 1.5},
                      "data": {"name": "taulukot"},
                      "transform": [{"filter": "datum.taulukko === 'T1'"}],
                      "encoding": {
                        "x": {"field": "sarake", "type": "nominal", "scale": {"domain": ["jakso", "v1996-2000", "v2006-2010", "v2016-2020"], "paddingInner": 0, "paddingOuter": 0}, "axis": null},
                        "y": {"field": "rivi", "type": "nominal", "scale": {"domain": ["jakso", "Päijät-Häme", "Koko maa"], "paddingInner": 0, "paddingOuter": 0}, "axis": null}
                      },
                      "layer": [
                        {"mark": {"type": "rect", "stroke": "#cccccc", "strokeWidth": 1}, "encoding": {"fill": {"condition": {"test": "datum.rivi === 'jakso'", "value": "#ebebeb"}, "value": "#ffffff"}}},
                        {"transform": [{"filter": "!(datum.rivi === 'jakso' && datum.sarake === 'jakso')"}], "mark": {"type": "text", "font": "DejaVu Sans", "fontSize": 9, "color": "#555555"}, "encoding": {"text": {"field": "teksti"}}},
                        {"transform": [{"filter": "datum.rivi === 'jakso' && datum.sarake === 'jakso'"}], "mark": {"type": "text", "font": "DejaVu Sans", "fontSize": 9, "fontWeight": "bold", "color": "#333333"}, "encoding": {"text": {"field": "teksti"}}}
                      ]
                    },
                    {
                      "width": 486, "height": 56,
                      "view": {"stroke": "#666666", "strokeWidth": 1.5},
                      "data": {"name": "taulukot"},
                      "transform": [{"filter": "datum.taulukko === 'T2'"}],
                      "encoding": {
                        "x": {"field": "sarake", "type": "nominal", "scale": {"domain": ["jakso", "v1996-2000", "v2006-2010", "v2016-2020"], "paddingInner": 0, "paddingOuter": 0}, "axis": null},
                        "y": {"field": "rivi", "type": "nominal", "scale": {"domain": ["jakso", "Päijät-Häme, Naiset", "Päijät-Häme, Miehet", "Päijät-Häme, Molemmat"], "paddingInner": 0, "paddingOuter": 0}, "axis": null}
                      },
                      "layer": [
                        {"mark": {"type": "rect", "stroke": "#cccccc", "strokeWidth": 1}, "encoding": {"fill": {"condition": {"test": "datum.rivi === 'jakso'", "value": "#ebebeb"}, "value": "#ffffff"}}},
                        {"transform": [{"filter": "!(datum.rivi === 'jakso' && datum.sarake === 'jakso')"}], "mark": {"type": "text", "font": "DejaVu Sans", "fontSize": 9, "color": "#555555"}, "encoding": {"text": {"field": "teksti"}}},
                        {"transform": [{"filter": "datum.rivi === 'jakso' && datum.sarake === 'jakso'"}], "mark": {"type": "text", "font": "DejaVu Sans", "fontSize": 9, "fontWeight": "bold", "color": "#333333"}, "encoding": {"text": {"field": "teksti"}}}
                      ]
                    }
                  ]
                },
                {"width": 1, "height": 3, "data": {"name": "tyhja"}, "mark": {"type": "point", "opacity": 0, "size": 1}, "encoding": {}},
                {
                  "columns": 3,
                  "align": "none",
                  "spacing": 21,
                  "resolve": {"scale": {"color": "independent", "stroke": "independent", "fill": "independent", "shape": "independent", "strokeDash": "independent"}},
                  "concat": [
                    {"width": 1, "height": 1, "data": {"name": "tyhja"}, "mark": {"type": "point", "opacity": 0, "size": 1}, "encoding": {}},
                    {
                      "title": {"text": "Naiset", "frame": "bounds", "fontSize": 13, "offset": 4},
                      "width": 438, "height": 175,
                      "data": {"name": "lepo"},
                      "transform": [{"filter": "datum.kuva === 'Naiset'"}],
                      "encoding": {
                        "x": {"field": "jakso", "type": "ordinal", "scale": {"type": "point", "padding": 0.37}, "axis": {"title": "jakso", "titleAnchor": "end", "grid": true, "labelPadding": 4, "titlePadding": 3}},
                        "y": {"field": "arvo", "type": "quantitative", "scale": {"domain": [0, 2500], "nice": false}, "axis": {"title": null, "values": [0, 500, 1000, 1500, 2000, 2500], "grid": true, "minExtent": 45, "labelPadding": 6}},
                        "stroke": {"field": "sarja", "type": "nominal", "scale": {"domain": ["Päijät-Häme", "Päijät-Häme yläraja", "Päijät-Häme alaraja", "Koko maa"], "range": ["#f11a1a", "#f11a1a", "#f11a1a", "#0a0a8a"]}, "legend": {"orient": "none", "legendX": 291, "legendY": 5, "title": null}}
                      },
                      "layer": [
                        {"mark": {"type": "line", "strokeWidth": 3}, "encoding": {"strokeDash": {"field": "sarja", "type": "nominal", "scale": {"domain": ["Päijät-Häme", "Päijät-Häme yläraja", "Päijät-Häme alaraja", "Koko maa"], "range": [[1, 0], [10, 5], [10, 5], [1, 0]]}, "legend": null}}},
                        {"mark": {"type": "point", "size": 55, "strokeWidth": 2, "opacity": 1}, "encoding": {
                          "fill": {"field": "sarja", "type": "nominal", "scale": {"domain": ["Päijät-Häme", "Päijät-Häme yläraja", "Päijät-Häme alaraja", "Koko maa"], "range": ["#ffffff", "#f11a1a", "#f11a1a", "#0a0a8a"]}, "legend": {"orient": "none", "legendX": 291, "legendY": 5, "title": null}},
                          "shape": {"field": "sarja", "type": "nominal", "scale": {"domain": ["Päijät-Häme", "Päijät-Häme yläraja", "Päijät-Häme alaraja", "Koko maa"], "range": ["circle", "triangle-down", "triangle-up", "square"]}, "legend": {"orient": "none", "legendX": 291, "legendY": 5, "title": null}}}}
                      ]
                    },
                    {
                      "title": {"text": "Miehet", "frame": "bounds", "fontSize": 13, "offset": 4},
                      "width": 438, "height": 175,
                      "data": {"name": "lepo"},
                      "transform": [{"filter": "datum.kuva === 'Miehet'"}],
                      "encoding": {
                        "x": {"field": "jakso", "type": "ordinal", "scale": {"type": "point", "padding": 0.37}, "axis": {"title": "jakso", "titleAnchor": "end", "grid": true, "labelPadding": 4, "titlePadding": 3}},
                        "y": {"field": "arvo", "type": "quantitative", "scale": {"domain": [0, 2500], "nice": false}, "axis": {"title": null, "values": [0, 500, 1000, 1500, 2000, 2500], "grid": true, "minExtent": 51, "labelPadding": 6}},
                        "stroke": {"field": "sarja", "type": "nominal", "scale": {"domain": ["Päijät-Häme", "Päijät-Häme yläraja", "Päijät-Häme alaraja", "Koko maa"], "range": ["#f11a1a", "#f11a1a", "#f11a1a", "#0a0a8a"]}, "legend": {"orient": "none", "legendX": 287, "legendY": 2, "title": null}}
                      },
                      "layer": [
                        {"mark": {"type": "line", "strokeWidth": 3}, "encoding": {"strokeDash": {"field": "sarja", "type": "nominal", "scale": {"domain": ["Päijät-Häme", "Päijät-Häme yläraja", "Päijät-Häme alaraja", "Koko maa"], "range": [[1, 0], [10, 5], [10, 5], [1, 0]]}, "legend": null}}},
                        {"mark": {"type": "point", "size": 55, "strokeWidth": 2, "opacity": 1}, "encoding": {
                          "fill": {"field": "sarja", "type": "nominal", "scale": {"domain": ["Päijät-Häme", "Päijät-Häme yläraja", "Päijät-Häme alaraja", "Koko maa"], "range": ["#ffffff", "#f11a1a", "#f11a1a", "#0a0a8a"]}, "legend": {"orient": "none", "legendX": 287, "legendY": 2, "title": null}},
                          "shape": {"field": "sarja", "type": "nominal", "scale": {"domain": ["Päijät-Häme", "Päijät-Häme yläraja", "Päijät-Häme alaraja", "Koko maa"], "range": ["circle", "triangle-down", "triangle-up", "square"]}, "legend": {"orient": "none", "legendX": 287, "legendY": 2, "title": null}}}}
                      ]
                    }
                  ]
                },
                {
                  "columns": 3,
                  "align": "none",
                  "spacing": 21,
                  "concat": [
                    {"width": 1, "height": 1, "data": {"name": "tyhja"}, "mark": {"type": "point", "opacity": 0, "size": 1}, "encoding": {}},
                    {
                      "width": 486, "height": 42,
                      "view": {"stroke": "#666666", "strokeWidth": 1.5},
                      "data": {"name": "taulukot"},
                      "transform": [{"filter": "datum.taulukko === 'T3'"}],
                      "encoding": {
                        "x": {"field": "sarake", "type": "nominal", "scale": {"domain": ["jakso", "v1996-2000", "v2006-2010", "v2016-2020"], "paddingInner": 0, "paddingOuter": 0}, "axis": null},
                        "y": {"field": "rivi", "type": "nominal", "scale": {"domain": ["jakso", "Päijät-Häme", "Koko maa"], "paddingInner": 0, "paddingOuter": 0}, "axis": null}
                      },
                      "layer": [
                        {"mark": {"type": "rect", "stroke": "#cccccc", "strokeWidth": 1}, "encoding": {"fill": {"condition": {"test": "datum.rivi === 'jakso'", "value": "#ebebeb"}, "value": "#ffffff"}}},
                        {"transform": [{"filter": "!(datum.rivi === 'jakso' && datum.sarake === 'jakso')"}], "mark": {"type": "text", "font": "DejaVu Sans", "fontSize": 9, "color": "#555555"}, "encoding": {"text": {"field": "teksti"}}},
                        {"transform": [{"filter": "datum.rivi === 'jakso' && datum.sarake === 'jakso'"}], "mark": {"type": "text", "font": "DejaVu Sans", "fontSize": 9, "fontWeight": "bold", "color": "#333333"}, "encoding": {"text": {"field": "teksti"}}}
                      ]
                    },
                    {
                      "width": 486, "height": 42,
                      "view": {"stroke": "#666666", "strokeWidth": 1.5},
                      "data": {"name": "taulukot"},
                      "transform": [{"filter": "datum.taulukko === 'T4'"}],
                      "encoding": {
                        "x": {"field": "sarake", "type": "nominal", "scale": {"domain": ["jakso", "v1996-2000", "v2006-2010", "v2016-2020"], "paddingInner": 0, "paddingOuter": 0}, "axis": null},
                        "y": {"field": "rivi", "type": "nominal", "scale": {"domain": ["jakso", "Päijät-Häme", "Koko maa"], "paddingInner": 0, "paddingOuter": 0}, "axis": null}
                      },
                      "layer": [
                        {"mark": {"type": "rect", "stroke": "#cccccc", "strokeWidth": 1}, "encoding": {"fill": {"condition": {"test": "datum.rivi === 'jakso'", "value": "#ebebeb"}, "value": "#ffffff"}}},
                        {"transform": [{"filter": "!(datum.rivi === 'jakso' && datum.sarake === 'jakso')"}], "mark": {"type": "text", "font": "DejaVu Sans", "fontSize": 9, "color": "#555555"}, "encoding": {"text": {"field": "teksti"}}},
                        {"transform": [{"filter": "datum.rivi === 'jakso' && datum.sarake === 'jakso'"}], "mark": {"type": "text", "font": "DejaVu Sans", "fontSize": 9, "fontWeight": "bold", "color": "#333333"}, "encoding": {"text": {"field": "teksti"}}}
                      ]
                    }
                  ]
                },
                {"width": 1, "height": 9, "data": {"name": "tyhja"}, "mark": {"type": "point", "opacity": 0, "size": 1}, "encoding": {}},
                {
                  "columns": 2,
                  "align": "none",
                  "spacing": 21,
                  "concat": [
                    {"width": 1, "height": 1, "data": {"name": "tyhja"}, "mark": {"type": "point", "opacity": 0, "size": 1}, "encoding": {}},
                    {"title": {"text": "FCG", "anchor": "end", "font": "Open Sans", "fontSize": 58, "fontWeight": "normal", "color": "#1f63ad", "offset": 0}, "width": 986, "height": 1, "data": {"name": "tyhja"}, "mark": {"type": "point", "opacity": 0, "size": 1}, "encoding": {}}
                  ]
                }
              ]
            }
          ]
        }
      ]
    }
  ]
}
